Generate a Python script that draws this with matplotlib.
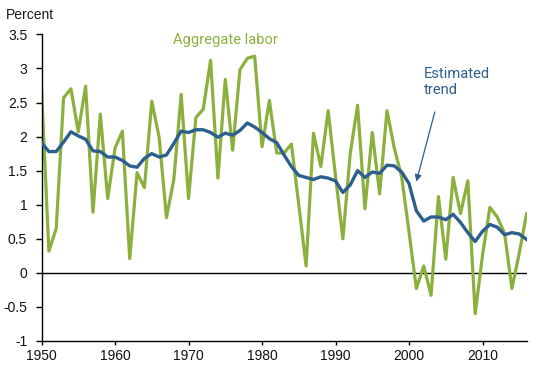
import matplotlib
matplotlib.use("Agg")
import matplotlib.pyplot as plt
import numpy as np

years = list(range(1950, 2017))
aggregate_labor = [
    2.70, 0.32, 0.65, 2.57, 2.70, 2.07, 2.74, 0.89, 2.33, 1.09,
    1.83, 2.08, 0.21, 1.47, 1.25, 2.52, 1.99, 0.81, 1.37, 2.62,
    1.09, 2.28, 2.40, 3.12, 1.39, 2.84, 1.80, 2.98, 3.15, 3.18,
    1.85, 2.53, 1.76, 1.76, 1.89, 1.00, 0.10, 2.05, 1.56, 2.38,
    1.42, 0.50, 1.75, 2.46, 0.94, 2.06, 1.16, 2.38, 1.83, 1.41,
    0.60, -0.23, 0.10, -0.33, 1.12, 0.20, 1.40, 0.87, 1.35, -0.60,
    0.26, 0.96, 0.82, 0.58, -0.23, 0.29, 0.87,
]
estimated_trend = [
    1.91, 1.78, 1.78, 1.92, 2.07, 2.01, 1.96, 1.79, 1.78, 1.70,
    1.70, 1.65, 1.57, 1.55, 1.68, 1.75, 1.70, 1.73, 1.90, 2.08,
    2.06, 2.10, 2.10, 2.06, 1.99, 2.05, 2.02, 2.09, 2.20, 2.14,
    2.06, 1.97, 1.91, 1.73, 1.56, 1.43, 1.40, 1.37, 1.41, 1.39,
    1.35, 1.18, 1.29, 1.50, 1.40, 1.48, 1.46, 1.58, 1.57, 1.48,
    1.31, 0.91, 0.76, 0.82, 0.82, 0.78, 0.86, 0.74, 0.59, 0.46,
    0.61, 0.71, 0.67, 0.56, 0.59, 0.57, 0.49,
]
y_ticks = [-1, -0.5, 0, 0.5, 1, 1.5, 2, 2.5, 3, 3.5]
y_tick_labels = ["-1", "-0.5", "0", "0.5", "1", "1.5", "2", "2.5", "3", "3.5"]
x_ticks = [1950, 1960, 1970, 1980, 1990, 2000, 2010]

GREEN = "#8bb03e"
BLUE = "#2d5f8e"

fig = plt.figure(figsize=(5.5, 3.65), dpi=100)
ax = fig.add_axes([0.0755, 0.0658, 0.882, 0.840])

ax.axhline(0, color="black", lw=1.0, zorder=1)
ax.plot(years, aggregate_labor, color=GREEN, lw=2.3, zorder=2)
ax.plot(years, estimated_trend, color=BLUE, lw=2.4, zorder=3)

ax.set_xlim(1950, 2016)
ax.set_ylim(-1, 3.5)
ax.set_yticks(y_ticks)
ax.set_yticklabels(y_tick_labels)
ax.set_xticks(x_ticks)
for s in ["top", "right"]:
    ax.spines[s].set_visible(False)
for s in ["left", "bottom"]:
    ax.spines[s].set_linewidth(1.0)
ax.tick_params(axis="y", direction="out", length=4.3, width=1.0, labelsize=10, pad=6)
ax.tick_params(axis="x", direction="out", length=3.2, width=1.0, labelsize=10, pad=2.5)
for lbl in ax.get_xticklabels() + ax.get_yticklabels():
    lbl.set_fontfamily("Liberation Sans")
    lbl.set_color("#111111")

fig.text(0.01, 0.958, "Percent", fontsize=10, family="Liberation Sans", color="#1a1a1a",
         ha="left", va="center")

ax.text(1975.0, 3.5 - (40 - 34.3) / 68.16, "Aggregate labor", color=GREEN, fontsize=10.6,
        family="Roboto", ha="center", va="center")
ax.text(2002.0, 3.5 - (67 - 34.3) / 68.16, "Estimated\ntrend", color=BLUE, fontsize=10.6,
        family="Roboto", ha="left", va="top", linespacing=1.15)
ax.annotate("", xy=(2000.9, 1.3), xytext=(2003.6, 2.4),
            arrowprops=dict(arrowstyle="-|>", color=BLUE, lw=0.9, mutation_scale=10))

fig.savefig("out.png", dpi=100)
